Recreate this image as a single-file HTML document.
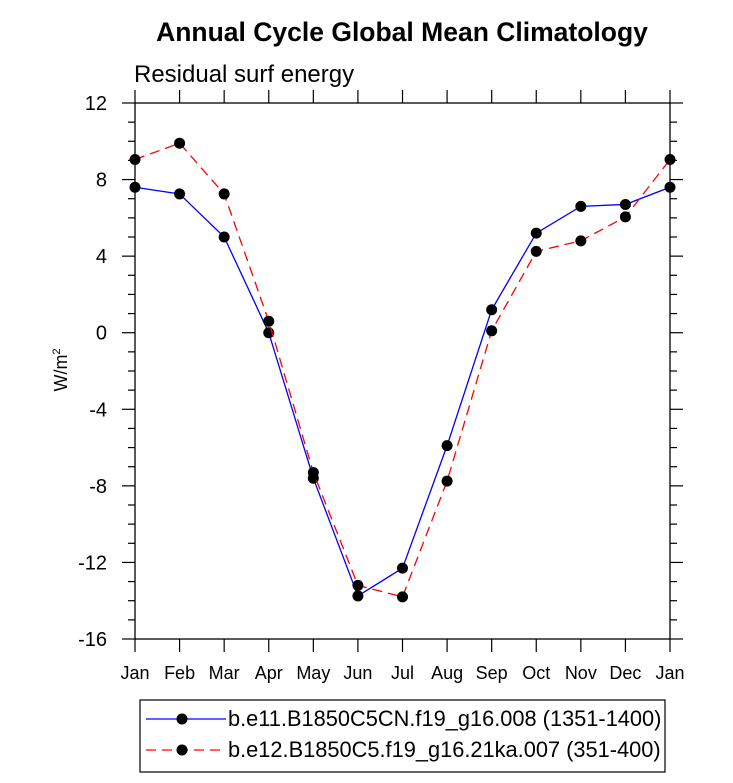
<!DOCTYPE html>
<html><head><meta charset="utf-8"><style>
body{margin:0;background:#fff;}
svg text{font-family:"Liberation Sans",sans-serif;}
</style></head><body>
<svg id="chart" width="733" height="778" xmlns="http://www.w3.org/2000/svg">
<text x="402" y="41" text-anchor="middle" font-size="26.5" font-weight="bold">Annual Cycle Global Mean Climatology</text>
<text x="134" y="82" font-size="24">Residual surf energy</text>
<text transform="translate(67,370) rotate(-90)" text-anchor="middle" font-size="18">W/m<tspan dy="-7" font-size="11">2</tspan></text>
<g id="axes"></g>
<g id="series"></g>
<g>
<rect x="140" y="700" width="525" height="72" fill="none" stroke="#000" stroke-width="1.2"/>
<g>
<line x1="146" y1="719" x2="226" y2="719" stroke="#0000ff" stroke-width="1.3"/>
<circle cx="182" cy="719" r="5.5" fill="#000"/>
<text x="228" y="726" font-size="21.8">b.e11.B1850C5CN.f19_g16.008 (1351-1400)</text>
</g>
<g>
<line x1="146" y1="750" x2="226" y2="750" stroke="#ff0000" stroke-width="1.3" stroke-dasharray="10,6"/>
<circle cx="182" cy="750" r="5.5" fill="#000"/>
<text x="228" y="757" font-size="21.8">b.e12.B1850C5.f19_g16.21ka.007 (351-400)</text>
</g>
</g>
</svg>
<script>
const months=["Jan","Feb","Mar","Apr","May","Jun","Jul","Aug","Sep","Oct","Nov","Dec","Jan"];
const blueValues=[7.6,7.25,5.0,0.0,-7.6,-13.75,-12.3,-5.9,1.2,5.2,6.6,6.7,7.6];
const redValues=[9.05,9.9,7.25,0.6,-7.3,-13.2,-13.8,-7.75,0.1,4.25,4.8,6.05,9.05];
const yTicks=[12,8,4,0,-4,-8,-12,-16];
const NS="http://www.w3.org/2000/svg";
const L=135,R=670,T=103,B=639,yMin=-16,yMax=12;
function xs(i){return L+(R-L)*i/(months.length-1);}
function ys(v){return T+(yMax-v)*(B-T)/(yMax-yMin);}
function mk(tag,at,parent){const e=document.createElementNS(NS,tag);for(const k in at)e.setAttribute(k,at[k]);parent.appendChild(e);return e;}
const ax=document.getElementById('axes');
const frame=mk('rect',{x:L,y:T,width:R-L,height:B-T,fill:'none',stroke:'#000','stroke-width':1.3},ax);


for(let v=yMin;v<=yMax;v++){
  const y=ys(v),maj=(v%4===0),len=maj?13:7;
  mk('line',{x1:L-len,y1:y,x2:L,y2:y,stroke:'#000','stroke-width':1.2},ax);
  mk('line',{x1:R,y1:y,x2:R+len,y2:y,stroke:'#000','stroke-width':1.2},ax);
}
yTicks.forEach(v=>{
  const t=mk('text',{x:L-28,y:ys(v)+7,'text-anchor':'end','font-size':20},ax);
  t.textContent=v;
  
  
});
months.forEach((m,i)=>{
  const x=xs(i);
  mk('line',{x1:x,y1:B,x2:x,y2:B+13,stroke:'#000','stroke-width':1.2},ax);
  mk('line',{x1:x,y1:T-13,x2:x,y2:T,stroke:'#000','stroke-width':1.2},ax);
  const t=mk('text',{x:x,y:B+40,'text-anchor':'middle','font-size':18},ax);
  t.textContent=m;
  
  
});
const sg=document.getElementById('series');
function draw(vals,color,dash,name){
  const g=mk('g',{},sg);
  
  
  const pts=vals.map((v,i)=>xs(i)+','+ys(v)).join(' ');
  const at={points:pts,fill:'none',stroke:color,'stroke-width':1.3};
  if(dash)at['stroke-dasharray']=dash;
  mk('polyline',at,g);
  vals.forEach((v,i)=>{
    const c=mk('circle',{cx:xs(i),cy:ys(v),r:5.5,fill:'#000'},g);
    
    
  });
}
draw(blueValues,'#0000ff',null,'series-b-e11');
draw(redValues,'#ff0000','10,6','series-b-e12');
</script>
</body></html>
